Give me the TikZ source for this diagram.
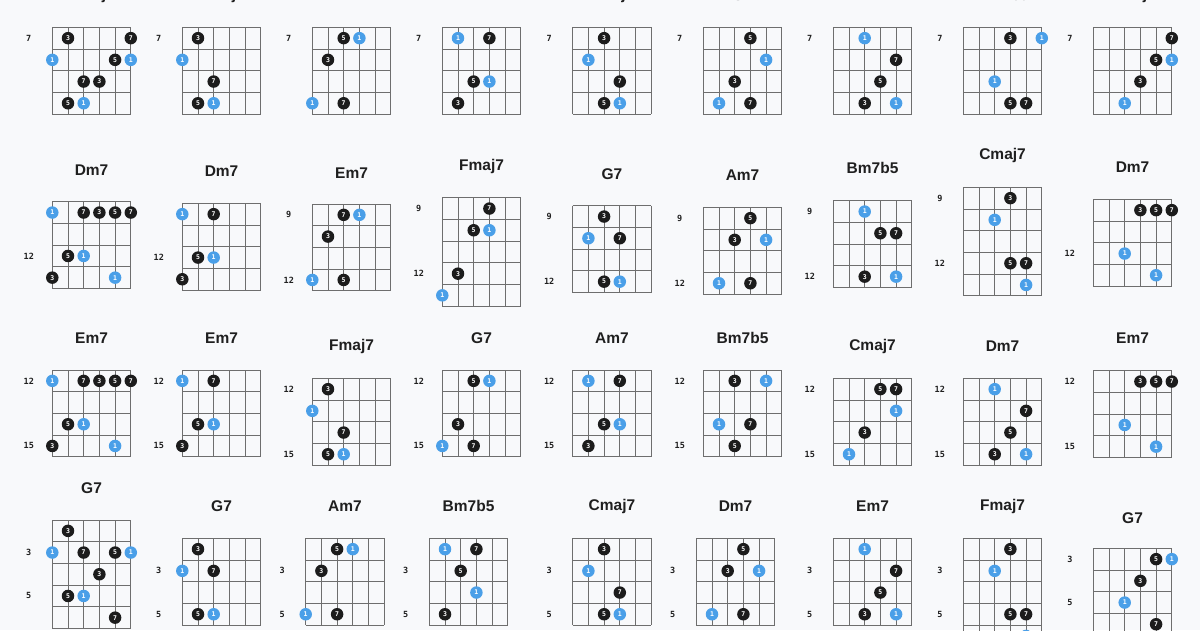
\documentclass[tikz,border=0pt]{standalone}
\usepackage{fontspec}
\setmainfont{Liberation Sans}
\newfontfamily\labfont{DejaVu Sans Mono}
\definecolor{bg}{HTML}{F8F9FB}
\definecolor{gridc}{HTML}{6E6E6E}
\definecolor{dotblack}{HTML}{1C1C1C}
\definecolor{dotblue}{HTML}{4A9FE8}
\tikzset{
 gridline/.style={draw=gridc, line width=0.85pt},
 bdot/.style={circle, fill=dotblack, inner sep=0pt, minimum size=12.5pt, text=white, font=\labfont\bfseries\fontsize{6.5}{6.5}\selectfont},
 udot/.style={bdot, fill=dotblue},
 ctitle/.style={font=\bfseries\fontsize{15.5}{15.5}\selectfont, text=black!88},
 flabel/.style={font=\labfont\bfseries\fontsize{8.5}{9}\selectfont, text=black!88},
}
\newcommand\cgrid[6]{\def\cgid{#1}\def\cgx{#2}\def\cgy{#3}%
 \foreach \s in {0,...,5}{\draw[gridline] (#2+\s*15.7,#3) -- (#2+\s*15.7,#3+#4*21.7);}%
 \foreach \f in {0,...,#4}{\draw[gridline] (#2,#3+\f*21.7) -- (#2+78.5,#3+\f*21.7);}%
 \node[ctitle] (#1-t) at (#2+39.25,#6) {#5};}
\newcommand\bdt[3]{\node[bdot] (\cgid-#1-#2) at (\cgx+#1*15.7,\cgy+#2*21.7-10.85) {#3};}
\newcommand\udt[2]{\node[udot] (\cgid-#1-#2) at (\cgx+#1*15.7,\cgy+#2*21.7-10.85) {1};}
\newcommand\flb[2]{\node[flabel] (\cgid-l#1) at (\cgx-23.5,\cgy+#1*21.7-10.85) {#2};}
\begin{document}
\begin{tikzpicture}[x=1pt,y=-1pt]
\fill[bg] (0,0) rectangle (1200,630);
\useasboundingbox (0,0) rectangle (1200,630);
% ---------- row 1 ----------
\cgrid{a1}{52.3}{27.3}{4}{Cmaj7}{-4.7}\flb{1}{7}
\bdt{1}{1}{3}\bdt{5}{1}{7}\udt{0}{2}\bdt{4}{2}{5}\udt{5}{2}\bdt{2}{3}{7}\bdt{3}{3}{3}\bdt{1}{4}{5}\udt{2}{4}
\cgrid{a2}{182.3}{27.3}{4}{Cmaj7}{-4.7}\flb{1}{7}
\bdt{1}{1}{3}\udt{0}{2}\bdt{2}{3}{7}\bdt{1}{4}{5}\udt{2}{4}
\cgrid{a3}{312.3}{27.3}{4}{Dm7}{-4.7}\flb{1}{7}
\bdt{2}{1}{5}\udt{3}{1}\bdt{1}{2}{3}\udt{0}{4}\bdt{2}{4}{7}
\cgrid{a4}{442.3}{27.3}{4}{Em7}{-4.7}\flb{1}{7}
\udt{1}{1}\bdt{3}{1}{7}\bdt{2}{3}{5}\udt{3}{3}\bdt{1}{4}{3}
\cgrid{a5}{572.7}{27.3}{4}{Fmaj7}{-4.7}\flb{1}{7}
\bdt{2}{1}{3}\udt{1}{2}\bdt{3}{3}{7}\bdt{2}{4}{5}\udt{3}{4}
\cgrid{a6}{703.3}{27.3}{4}{G7}{-4.7}\flb{1}{7}
\bdt{3}{1}{5}\udt{4}{2}\bdt{2}{3}{3}\udt{1}{4}\bdt{3}{4}{7}
\cgrid{a7}{833.3}{27.3}{4}{Am7}{-4.7}\flb{1}{7}
\udt{2}{1}\bdt{4}{2}{7}\bdt{3}{3}{5}\bdt{2}{4}{3}\udt{4}{4}
\cgrid{a8}{963.3}{27.3}{4}{Bm7b5}{-4.7}\flb{1}{7}
\bdt{3}{1}{3}\udt{5}{1}\udt{2}{3}\bdt{3}{4}{5}\bdt{4}{4}{7}
\cgrid{a9}{1093.3}{27.3}{4}{Cmaj7}{-4.7}\flb{1}{7}
\bdt{5}{1}{7}\bdt{4}{2}{5}\udt{5}{2}\bdt{3}{3}{3}\udt{2}{4}
% ---------- row 2 ----------
\cgrid{b1}{52.3}{201.7}{4}{Dm7}{170}\flb{3}{12}
\udt{0}{1}\bdt{2}{1}{7}\bdt{3}{1}{3}\bdt{4}{1}{5}\bdt{5}{1}{7}\bdt{1}{3}{5}\udt{2}{3}\bdt{0}{4}{3}\udt{4}{4}
\cgrid{b2}{182.3}{203.3}{4}{Dm7}{171}\flb{3}{12}
\udt{0}{1}\bdt{2}{1}{7}\bdt{1}{3}{5}\udt{2}{3}\bdt{0}{4}{3}
\cgrid{b3}{312.3}{204}{4}{Em7}{172.7}\flb{1}{9}\flb{4}{12}
\bdt{2}{1}{7}\udt{3}{1}\bdt{1}{2}{3}\udt{0}{4}\bdt{2}{4}{5}
\cgrid{b4}{442.3}{197.7}{5}{Fmaj7}{166}\flb{1}{9}\flb{4}{12}
\bdt{3}{1}{7}\bdt{2}{2}{5}\udt{3}{2}\bdt{1}{4}{3}\udt{0}{5}
\cgrid{b5}{572.7}{205.7}{4}{G7}{174}\flb{1}{9}\flb{4}{12}
\bdt{2}{1}{3}\udt{1}{2}\bdt{3}{2}{7}\bdt{2}{4}{5}\udt{3}{4}
\cgrid{b6}{703.3}{207.3}{4}{Am7}{175}\flb{1}{9}\flb{4}{12}
\bdt{3}{1}{5}\bdt{2}{2}{3}\udt{4}{2}\udt{1}{4}\bdt{3}{4}{7}
\cgrid{b7}{833.3}{200.7}{4}{Bm7b5}{168.3}\flb{1}{9}\flb{4}{12}
\udt{2}{1}\bdt{3}{2}{5}\bdt{4}{2}{7}\bdt{2}{4}{3}\udt{4}{4}
\cgrid{b8}{963.3}{187.3}{5}{Cmaj7}{155}\flb{1}{9}\flb{4}{12}
\bdt{3}{1}{3}\udt{2}{2}\bdt{3}{4}{5}\bdt{4}{4}{7}\udt{4}{5}
\cgrid{b9}{1093.3}{199.3}{4}{Dm7}{166.7}\flb{3}{12}
\bdt{3}{1}{3}\bdt{4}{1}{5}\bdt{5}{1}{7}\udt{2}{3}\udt{4}{4}
% ---------- row 3 ----------
\cgrid{c1}{52.3}{370}{4}{Em7}{338.3}\flb{1}{12}\flb{4}{15}
\udt{0}{1}\bdt{2}{1}{7}\bdt{3}{1}{3}\bdt{4}{1}{5}\bdt{5}{1}{7}\bdt{1}{3}{5}\udt{2}{3}\bdt{0}{4}{3}\udt{4}{4}
\cgrid{c2}{182.3}{370}{4}{Em7}{338.3}\flb{1}{12}\flb{4}{15}
\udt{0}{1}\bdt{2}{1}{7}\bdt{1}{3}{5}\udt{2}{3}\bdt{0}{4}{3}
\cgrid{c3}{312.3}{378.3}{4}{Fmaj7}{346}\flb{1}{12}\flb{4}{15}
\bdt{1}{1}{3}\udt{0}{2}\bdt{2}{3}{7}\bdt{1}{4}{5}\udt{2}{4}
\cgrid{c4}{442.3}{370}{4}{G7}{338.3}\flb{1}{12}\flb{4}{15}
\bdt{2}{1}{5}\udt{3}{1}\bdt{1}{3}{3}\udt{0}{4}\bdt{2}{4}{7}
\cgrid{c5}{572.7}{370}{4}{Am7}{338.3}\flb{1}{12}\flb{4}{15}
\udt{1}{1}\bdt{3}{1}{7}\bdt{2}{3}{5}\udt{3}{3}\bdt{1}{4}{3}
\cgrid{c6}{703.3}{370}{4}{Bm7b5}{338.3}\flb{1}{12}\flb{4}{15}
\bdt{2}{1}{3}\udt{4}{1}\udt{1}{3}\bdt{3}{3}{7}\bdt{2}{4}{5}
\cgrid{c7}{833.3}{378.3}{4}{Cmaj7}{346}\flb{1}{12}\flb{4}{15}
\bdt{3}{1}{5}\bdt{4}{1}{7}\udt{4}{2}\bdt{2}{3}{3}\udt{1}{4}
\cgrid{c8}{963.3}{378.3}{4}{Dm7}{346.5}\flb{1}{12}\flb{4}{15}
\udt{2}{1}\bdt{4}{2}{7}\bdt{3}{3}{5}\bdt{2}{4}{3}\udt{4}{4}
\cgrid{c9}{1093.3}{370.7}{4}{Em7}{338.3}\flb{1}{12}\flb{4}{15}
\bdt{3}{1}{3}\bdt{4}{1}{5}\bdt{5}{1}{7}\udt{2}{3}\udt{4}{4}
% ---------- row 4 ----------
\cgrid{d1}{52.3}{520}{5}{G7}{488.3}\flb{2}{3}\flb{4}{5}
\bdt{1}{1}{3}\udt{0}{2}\bdt{2}{2}{7}\bdt{4}{2}{5}\udt{5}{2}\bdt{3}{3}{3}\bdt{1}{4}{5}\udt{2}{4}\bdt{4}{5}{7}
\cgrid{d2}{182.3}{538.3}{4}{G7}{506}\flb{2}{3}\flb{4}{5}
\bdt{1}{1}{3}\udt{0}{2}\bdt{2}{2}{7}\bdt{1}{4}{5}\udt{2}{4}
\cgrid{d3}{305.7}{538.3}{4}{Am7}{506}\flb{2}{3}\flb{4}{5}
\bdt{2}{1}{5}\udt{3}{1}\bdt{1}{2}{3}\udt{0}{4}\bdt{2}{4}{7}
\cgrid{d4}{429.3}{538.3}{4}{Bm7b5}{506}\flb{2}{3}\flb{4}{5}
\udt{1}{1}\bdt{3}{1}{7}\bdt{2}{2}{5}\udt{3}{3}\bdt{1}{4}{3}
\cgrid{d5}{572.7}{538.3}{4}{Cmaj7}{506}\flb{2}{3}\flb{4}{5}
\bdt{2}{1}{3}\udt{1}{2}\bdt{3}{3}{7}\bdt{2}{4}{5}\udt{3}{4}
\cgrid{d6}{696.3}{538.3}{4}{Dm7}{506}\flb{2}{3}\flb{4}{5}
\bdt{3}{1}{5}\bdt{2}{2}{3}\udt{4}{2}\udt{1}{4}\bdt{3}{4}{7}
\cgrid{d7}{833.3}{538.3}{4}{Em7}{506}\flb{2}{3}\flb{4}{5}
\udt{2}{1}\bdt{4}{2}{7}\bdt{3}{3}{5}\bdt{2}{4}{3}\udt{4}{4}
\cgrid{d8}{963.3}{538.3}{5}{Fmaj7}{506}\flb{2}{3}\flb{4}{5}
\bdt{3}{1}{3}\udt{2}{2}\bdt{3}{4}{5}\bdt{4}{4}{7}\udt{4}{5}
\cgrid{d9}{1093.3}{548.3}{5}{G7}{517.7}\flb{1}{3}\flb{3}{5}
\bdt{4}{1}{5}\udt{5}{1}\bdt{3}{2}{3}\udt{2}{3}\bdt{4}{4}{7}
\end{tikzpicture}
\end{document}
